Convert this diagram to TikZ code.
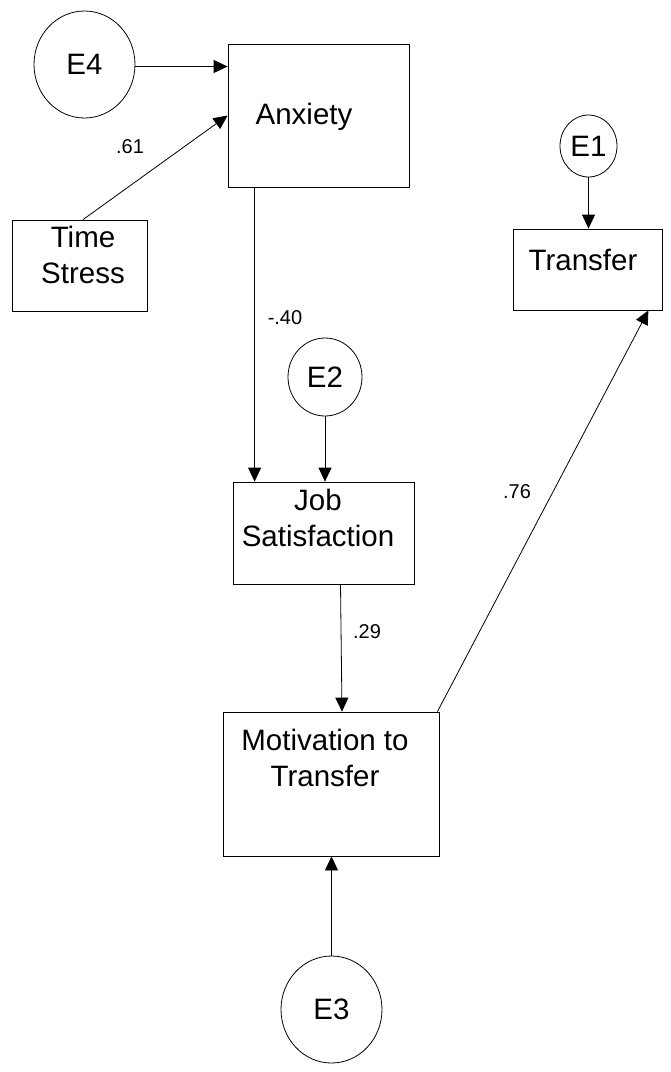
\documentclass[tikz,border=0pt]{standalone}
\usepackage{fontspec}
\setmainfont{Liberation Sans}
\usetikzlibrary{arrows.meta,calc,shapes.geometric}
\begin{document}
\begin{tikzpicture}[x=1pt,y=-1pt,
  line width=0.8pt,
  arr/.style={-{Triangle[length=14pt,width=13pt]}},
  boxnode/.style={draw,rectangle,inner sep=0pt},
  errnode/.style={draw,ellipse,inner sep=0pt,font=\fontsize{29.5}{35}\selectfont},
  txt/.style={align=center,font=\fontsize{29.5}{35.5}\selectfont,inner sep=0pt},
  lbl/.style={font=\fontsize{20}{24}\selectfont,inner sep=0pt}]
\useasboundingbox (0,0) rectangle (671,1072);
% boxes
\node[boxnode,minimum width=181pt,minimum height=143pt] (anx) at (318.5,115.5) {};
\node[boxnode,minimum width=135pt,minimum height=91pt] (ts) at (79.5,265.5) {};
\node[boxnode,minimum width=149pt,minimum height=81pt] (tr) at (587.5,269.5) {};
\node[boxnode,minimum width=181pt,minimum height=102pt] (js) at (323.5,533) {};
\node[boxnode,minimum width=216pt,minimum height=144pt] (mot) at (331,784) {};
% texts
\node[txt] (anxT) at (304,117) {Anxiety};
\node[txt] (tsT) at (83,255) {Time\\Stress};
\node[txt] (trT) at (583,260) {Transfer};
\node[txt] (jsT) at (318,518) {Job\\Satisfaction};
\node[txt] (motT) at (325,758) {Motivation to\\Transfer};
% error terms
\node[errnode,minimum width=101pt,minimum height=107pt] (E4) at (84.5,64.5) {E4};
\node[errnode,minimum width=57pt,minimum height=62pt] (E1) at (588.5,146) {E1};
\node[errnode,minimum width=74pt,minimum height=78pt] (E2) at (325,377) {E2};
\node[errnode,minimum width=101pt,minimum height=107pt] (E3) at (331.5,1009.5) {E3};
% connectors
\draw[arr] ($(E4.east)+(0,2)$) -- ($(E4.east -| anx.west)+(0,2)$);
\draw[arr] ($(ts.north)+(3.5,0)$) -- (anx.west);
\draw[arr] ($(anx.south west)+(27,0)$) -- ($(js.north west)+(22,0)$);
\draw[arr] (E2.south) -- (E2.south |- js.north);
\draw[arr] ($(js.south)+(17,0)$) -- ($(mot.north)+(11,0)$);
\draw[arr] (E3.north) -- (E3.north |- mot.south);
\draw[arr] ($(mot.north east)+(-2,0)$) -- ($(tr.south east)+(-14,0)$);
\draw[arr] (E1.south) -- (E1.south |- tr.north);
% labels
\node[lbl] (l61) at (130,147) {.61};
\node[lbl] (l40) at (285,318) {-.40};
\node[lbl] (l29) at (367,632) {.29};
\node[lbl] (l76) at (517,492) {.76};
\end{tikzpicture}
\end{document}
